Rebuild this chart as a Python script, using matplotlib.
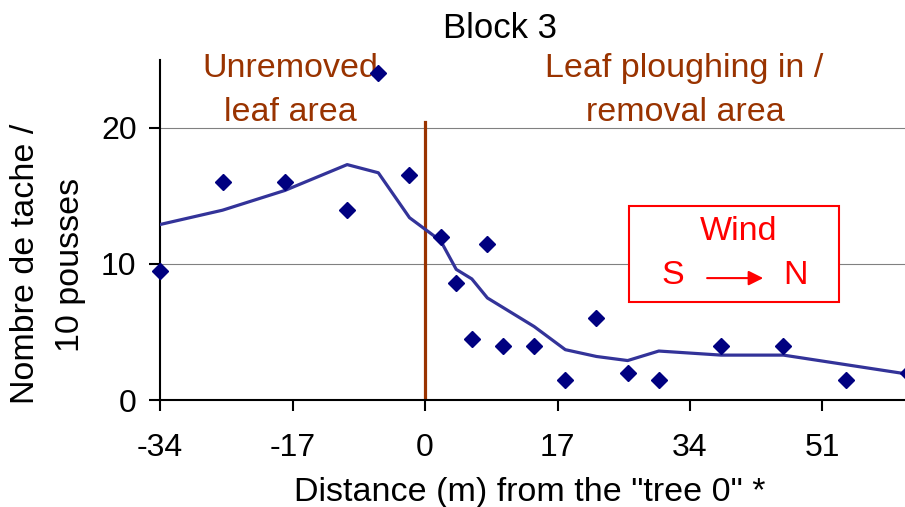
import matplotlib
matplotlib.use("Agg")
import matplotlib.pyplot as plt
import numpy as np

plt.rcParams['font.family'] = ['Liberation Sans', 'DejaVu Sans']
plt.rcParams['axes.unicode_minus'] = False

# distance from "tree 0" (m)
distance = [-34, -26, -18, -10, -6, -2, 2, 4, 6, 8, 10, 14, 18, 22, 26, 30, 38, 46, 54, 62]
# observed spots per 10 shoots
spots = [9.5, 16, 16, 14, 24, 16.5, 12, 8.6, 4.5, 11.5, 4, 4, 1.5, 6, 2, 1.5, 4, 4, 1.5, 2]
# smoothed trend
trend = [12.9, 13.95, 15.4, 17.3, 16.7, 13.4, 11.7, 9.6, 8.9, 7.5, 6.8, 5.4, 3.7, 3.2, 2.9, 3.6, 3.3, 3.3, 2.6, 1.9]

xticks = [-34, -17, 0, 17, 34, 51]
yticks = [0, 10, 20]

brown = '#993300'
red = '#ff0000'
fs = 24.5

fig = plt.figure(figsize=(9.05, 5.07), dpi=100)
ax = fig.add_axes([0.177, 0.211, 0.823, 0.671])

ax.plot(distance, trend, color='#333399', lw=2.3, zorder=3)
ax.plot(distance, spots, linestyle='none', marker='D', ms=8.3, color='#000080',
        zorder=4, clip_on=False)

ax.axvline(0, ymin=0, ymax=0.818, color=brown, lw=2.3, zorder=2)

ax.set_xlim(-34, 61.6)
ax.set_ylim(0, 25)
ax.set_xticks(xticks)
ax.set_yticks(yticks)
ax.tick_params(labelsize=23, width=1.5, length=8, direction='out')
ax.tick_params(axis='x', pad=16)
ax.tick_params(axis='y', pad=9)
ax.yaxis.grid(True, color='#808080', lw=0.8)
ax.set_axisbelow(True)
for s in ['top', 'right']:
    ax.spines[s].set_visible(False)
for s in ['left', 'bottom']:
    ax.spines[s].set_linewidth(1.5)

fig.text(530 / 905, 1 - 501 / 507, 'Distance (m) from the "tree 0" *', fontsize=fs,
         ha='center', va='baseline')
fig.text(26 / 905, 1 - 264 / 507, 'Nombre de tache /', fontsize=fs, rotation=90,
         ha='center', va='center')
fig.text(70 / 905, 1 - 265 / 507, '10 pousses', fontsize=fs, rotation=90,
         ha='center', va='center')
fig.text(500 / 905, 1 - 38 / 507, 'Block 3', fontsize=25, ha='center', va='baseline')

ax.text(-17.3, 23.73, 'Unremoved', color=brown, fontsize=fs, ha='center', va='baseline')
ax.text(-17.3, 20.5, 'leaf area', color=brown, fontsize=fs, ha='center', va='baseline')
ax.text(33.3, 23.73, 'Leaf ploughing in /', color=brown, fontsize=fs, ha='center', va='baseline')
ax.text(33.4, 20.5, 'removal area', color=brown, fontsize=fs, ha='center', va='baseline')

# wind box
box = plt.Rectangle((26.2, 7.2), 26.9, 7.05, transform=ax.transData,
                    facecolor='white', edgecolor=red, lw=1.5, zorder=5)
ax.add_patch(box)
ax.text(40.2, 11.76, 'Wind', color=red, fontsize=fs, ha='center', va='baseline', zorder=6)
ax.text(31.8, 8.52, 'S', color=red, fontsize=fs, ha='center', va='baseline', zorder=6)
ax.text(47.5, 8.52, 'N', color=red, fontsize=fs, ha='center', va='baseline', zorder=6)
ax.annotate('', xy=(43.4, 8.96), xytext=(36.2, 8.96),
            arrowprops=dict(arrowstyle='-|>', color=red, lw=1.5, mutation_scale=22,
                            shrinkA=0, shrinkB=0),
            zorder=6)

fig.savefig('out.png', dpi=100)
